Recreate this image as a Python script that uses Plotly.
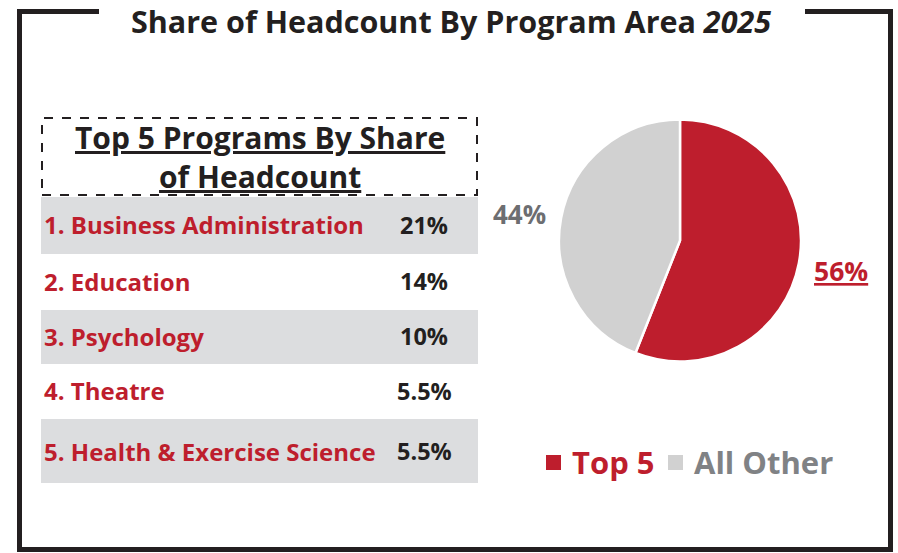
import plotly.graph_objects as go

# ---- data ----
title_main = "Share of Headcount By Program Area"
title_year = "2025"
table_title = ["Top 5 Programs By Share", "of Headcount"]
programs = ["1. Business Administration", "2. Education", "3. Psychology",
            "4. Theatre", "5. Health & Exercise Science"]
program_shares = ["21%", "14%", "10%", "5.5%", "5.5%"]
pie_labels = ["Top 5", "All Other"]
pie_values = [56, 44]

# ---- style ----
W, H = 898, 553
RED = "#BE1E2D"
PIE_GRAY = "#D1D1D1"
ROW_GRAY = "#DCDDDF"
LABEL_GRAY = "#6D6E71"
LEG_GRAY = "#808285"
DARK = "#231F20"
FONT = "Open Sans"


def px(x):
    return x / W


def py(y):
    return 1 - y / H


fig = go.Figure()

# pie
cx, cy, r = 680, 240.5, 121
fig.add_trace(go.Pie(
    labels=pie_labels,
    values=pie_values,
    sort=False,
    direction="clockwise",
    rotation=0,
    marker=dict(colors=[RED, PIE_GRAY], line=dict(color="white", width=2.5)),
    textinfo="none",
    hoverinfo="label+percent",
    showlegend=False,
    domain=dict(x=[px(cx - r), px(cx + r)], y=[py(cy + r), py(cy - r)]),
))

shapes = []
annotations = []

# frame
frame = dict(type="line", xref="paper", yref="paper",
             line=dict(color=DARK, width=5))
shapes.append({**frame, "x0": px(17), "x1": px(99), "y0": py(11.5), "y1": py(11.5)})
shapes.append({**frame, "x0": px(805), "x1": px(893), "y0": py(11.5), "y1": py(11.5)})
shapes.append({**frame, "x0": px(19.5), "x1": px(19.5), "y0": py(9), "y1": py(552)})
shapes.append({**frame, "x0": px(890.5), "x1": px(890.5), "y0": py(9), "y1": py(552)})
shapes.append({**frame, "x0": px(17), "x1": px(893), "y0": py(549.5), "y1": py(549.5)})

# title
annotations.append(dict(
    text=f"<b>{title_main} <i>{title_year}</i></b>",
    x=px(451.5), y=py(21), xref="paper", yref="paper",
    xanchor="center", yanchor="middle", showarrow=False,
    font=dict(family=FONT, size=30.5, color=DARK),
))

# table header (dashed box)
shapes.append(dict(type="rect", xref="paper", yref="paper",
                   x0=px(42), x1=px(477), y0=py(195), y1=py(118),
                   line=dict(color=DARK, width=2, dash="dash")))
annotations.append(dict(
    text="<br>".join(f"<b><u>{line}</u></b>" for line in table_title),
    x=px(260), y=py(157), xref="paper", yref="paper",
    xanchor="center", yanchor="middle", showarrow=False, align="center",
    font=dict(family=FONT, size=30, color=DARK),
))

# table rows
row_bounds = [197, 254, 310, 364, 419, 483]
for i, (name, share) in enumerate(zip(programs, program_shares)):
    top, bot = row_bounds[i], row_bounds[i + 1]
    if i % 2 == 0:
        shapes.append(dict(type="rect", xref="paper", yref="paper",
                           x0=px(41), x1=px(478), y0=py(bot), y1=py(top),
                           fillcolor=ROW_GRAY, line=dict(width=0), layer="below"))
    ymid = (top + bot) / 2 + (1 if i == 4 else 0)
    annotations.append(dict(
        text=f"<b>{name}</b>", x=px(42), y=py(ymid - 1), xref="paper", yref="paper",
        xanchor="left", yanchor="middle", showarrow=False,
        font=dict(family=FONT, size=24, color=RED),
    ))
    annotations.append(dict(
        text=f"<b>{share}</b>", x=px(424), y=py(ymid - 1), xref="paper", yref="paper",
        xanchor="center", yanchor="middle", showarrow=False,
        font=dict(family=FONT, size=23.5, color=DARK),
    ))

# pie value labels
annotations.append(dict(
    text=f"<b>{pie_values[1]}%</b>", x=px(519), y=py(214), xref="paper", yref="paper",
    xanchor="center", yanchor="middle", showarrow=False,
    font=dict(family=FONT, size=26, color=LABEL_GRAY),
))
annotations.append(dict(
    text=f"<b><u>{pie_values[0]}%</u></b>", x=px(841), y=py(271), xref="paper", yref="paper",
    xanchor="center", yanchor="middle", showarrow=False,
    font=dict(family=FONT, size=26.5, color=RED),
))

# legend (manual)
leg_y = 462
leg_items = [(pie_labels[0], RED, RED, 546), (pie_labels[1], PIE_GRAY, LEG_GRAY, 668)]
for label, sq_col, txt_col, x0 in leg_items:
    shapes.append(dict(type="rect", xref="paper", yref="paper",
                       x0=px(x0), x1=px(x0 + 15), y0=py(leg_y + 8), y1=py(leg_y - 7),
                       fillcolor=sq_col, line=dict(width=0)))
    annotations.append(dict(
        text=f"<b>{label}</b>", x=px(x0 + 24), y=py(leg_y), xref="paper", yref="paper",
        xanchor="left", yanchor="middle", showarrow=False,
        font=dict(family=FONT, size=31, color=txt_col),
    ))

fig.update_layout(
    width=W, height=H,
    margin=dict(l=0, r=0, t=0, b=0),
    paper_bgcolor="white", plot_bgcolor="white",
    shapes=shapes, annotations=annotations,
    showlegend=False,
)

fig.write_html("out.html", config={"displayModeBar": False},
               post_script="document.body.style.margin='0';")
